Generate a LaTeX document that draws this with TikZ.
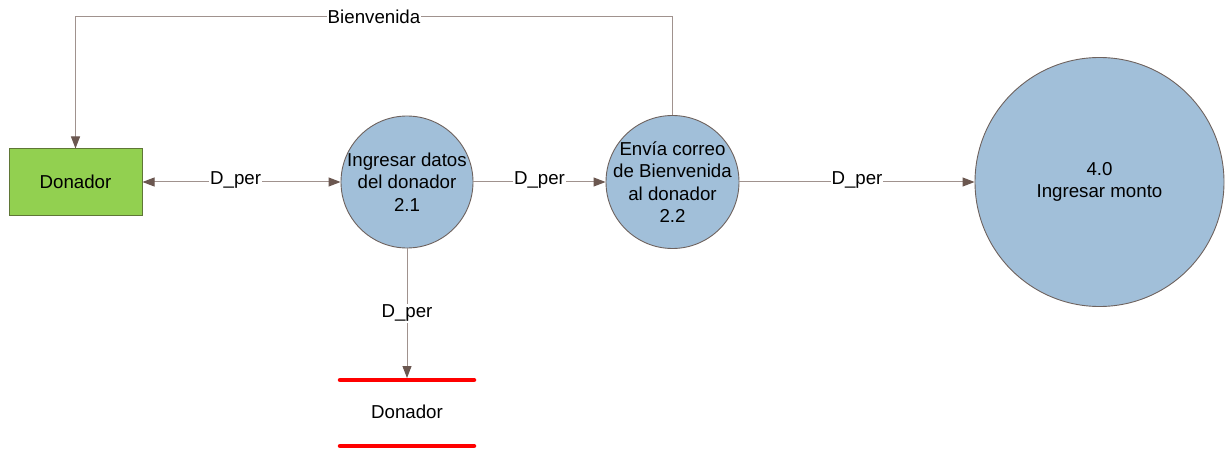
\documentclass[tikz,border=0pt]{standalone}
\usepackage{fontspec}
\setmainfont{Liberation Sans}
\usetikzlibrary{arrows.meta}
\definecolor{boxgreen}{HTML}{92D050}
\definecolor{boxedge}{HTML}{5F7636}
\definecolor{procblue}{HTML}{A1BFD9}
\definecolor{procedge}{HTML}{6E625E}
\definecolor{flowline}{HTML}{A0928E}
\definecolor{tipcol}{HTML}{6B5750}
\definecolor{storered}{HTML}{FF0000}
\tikzset{
  txt/.style={font=\fontsize{18.7}{22.5}\selectfont, text=black},
  entity/.style={draw=boxedge, fill=boxgreen, line width=1pt, minimum width=133pt, minimum height=66pt, inner sep=0pt, txt},
  proc/.style={circle, draw=procedge, fill=procblue, line width=0.9pt, inner sep=0pt},
  flow/.style={draw=flowline, line width=1pt, -{Triangle[length=12pt,width=9pt,color=tipcol]}},
  flowboth/.style={draw=flowline, line width=1pt, {Triangle[length=12pt,width=9pt,color=tipcol]}-{Triangle[length=12pt,width=9pt,color=tipcol]}},
  flowlabel/.style={fill=white, inner sep=1pt, txt},
  storeline/.style={draw=storered, line width=4.5pt, line cap=round},
}
\begin{document}
\begin{tikzpicture}[x=1pt,y=-1pt]
\useasboundingbox (0,0) rectangle (1225,449);
% entity
\node[entity] (d) at (75.5,182) {Donador};
% processes
\node[proc, minimum size=132pt, label={[txt,align=center]center:Ingresar datos\\del donador\\2.1}] (p21) at (407,182) {};
\node[proc, minimum size=133pt, label={[txt,align=center]center:Envía correo\\de Bienvenida\\al donador\\2.2}] (p22) at (672.5,182) {};
\node[proc, minimum size=249pt, label={[txt,align=center]center:4.0\\Ingresar monto}] (p40) at (1099.5,182) {};
% data store
\coordinate (s1a) at (340,380);
\coordinate (s1b) at (474,380);
\coordinate (s2a) at (340,446);
\coordinate (s2b) at (474,446);
\draw[storeline] (s1a) -- (s1b);
\draw[storeline] (s2a) -- (s2b);
\node[txt] (store) at (407,412) {Donador};
\coordinate (storetop) at (407,378);
% flows
\draw[flowboth] (d.east) -- node[flowlabel, pos=0.47, yshift=2pt] {D\_per} (p21.west);
\draw[flow] (p21.east) -- node[flowlabel, yshift=2pt] {D\_per} (p22.west);
\draw[flow] (p22.east) -- node[flowlabel, yshift=2pt] {D\_per} (p40.west);
\draw[flow] (p21.south) -- node[flowlabel, pos=0.5] {D\_per} (storetop);
\coordinate (tr) at (672.5,17);
\coordinate (tl) at (75.5,17);
\draw[flow] (p22.north) -- (tr) -- node[flowlabel] {Bienvenida} (tl) -- (d.north);
\end{tikzpicture}
\end{document}
